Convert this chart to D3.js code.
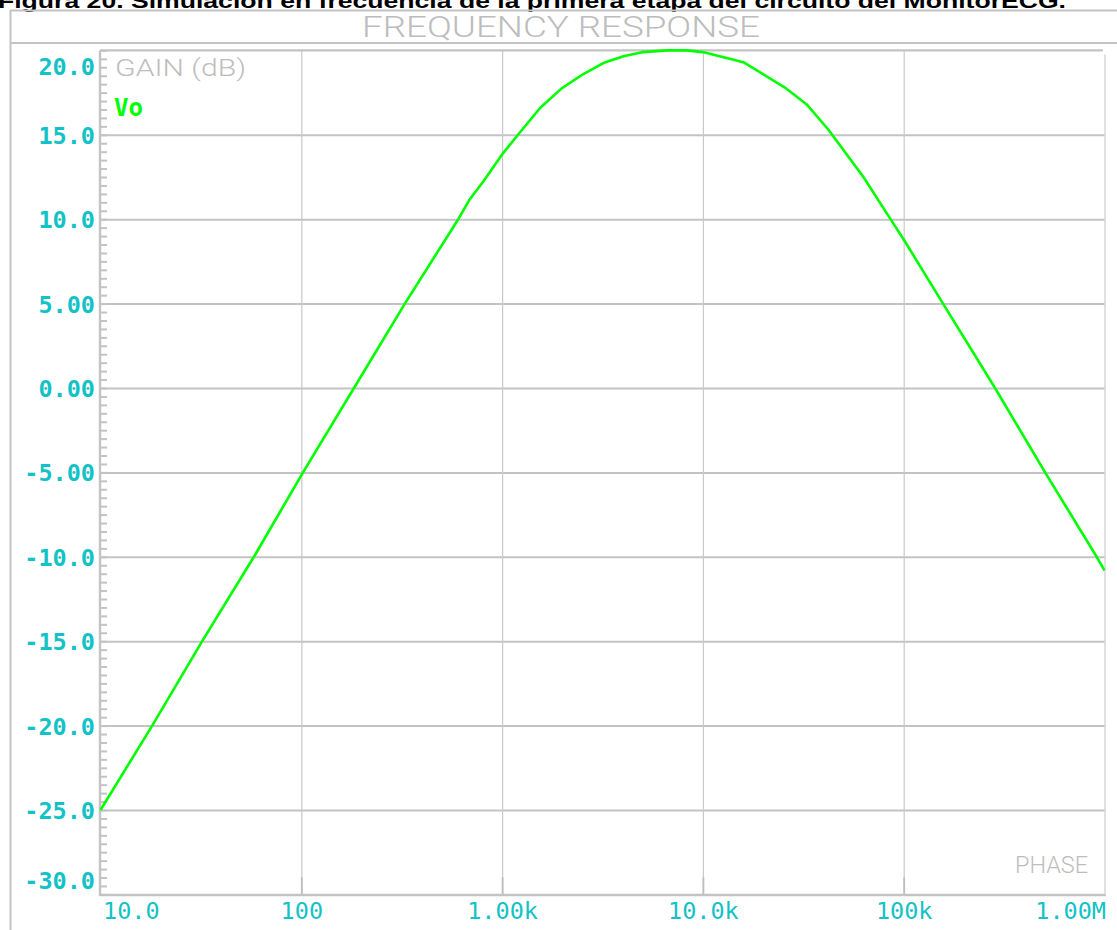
<!DOCTYPE html>
<html>
<head>
<meta charset="utf-8">
<script src="https://cdn.jsdelivr.net/npm/d3@7"></script>
<style>
  html, body { margin: 0; padding: 0; background: #fff; }
  svg { display: block; }
</style>
</head>
<body>
<svg id="chart" width="1117" height="930"></svg>
<script>
// ---------------- data ----------------
const caption = "Figura 20. Simulación en frecuencia de la primera etapa del circuito del MonitorECG.";
const plotTitle = "FREQUENCY RESPONSE";
const yAxisTitle = "GAIN (dB)";
const rightAxisTitle = "PHASE";
const seriesName = "Vo";

const freqHz = [10, 18.1, 32.1, 58.1, 102, 183, 328, 605, 692, 803, 1010, 1200, 1550, 1980, 2540, 3190, 4020, 5050, 6600, 8300, 10000, 15900, 25600, 32900, 42200, 63000, 85500, 100000, 157000, 285000, 506000, 914000, 1000000];
const gainDb = [-25.0, -20.0, -15.0, -10.0, -5.0, 0.0, 5.0, 10.0, 11.2, 12.2, 13.9, 15.0, 16.6, 17.75, 18.6, 19.25, 19.65, 19.9, 20.0, 20.0, 19.9, 19.3, 17.8, 16.8, 15.3, 12.5, 10.05, 8.8, 5.0, 0.0, -5.0, -10.0, -10.8];

const yTickValues = [20, 15, 10, 5, 0, -5, -10, -15, -20, -25, -30];
const yTickLabels = ["20.0", "15.0", "10.0", "5.00", "0.00", "-5.00", "-10.0", "-15.0", "-20.0", "-25.0", "-30.0"];
const xTickValues = [10, 100, 1000, 10000, 100000, 1000000];
const xTickLabels = ["10.0", "100", "1.00k", "10.0k", "100k", "1.00M"];

// ---------------- layout ----------------
const svg = d3.select("#chart");
const L = 100, R = 1105, T = 50.4, B = 894.4;
const x = d3.scaleLog().domain([10, 1e6]).range([100.5, 1104.5]);
const y = d3.scaleLinear().domain([-30, 20]).range([B, T]);

const GRID = "#c3c3c3";
const CYAN = "#12c2c6";
const GREEN = "#00ff00";
const LABELGRAY = "#bdbdbd";

// caption (cut at top)
svg.append("text")
  .attr("x", -2).attr("y", 7.5)
  .attr("font-family", "Liberation Sans, Arial, sans-serif")
  .attr("font-weight", "bold").attr("font-size", 20)
  .attr("textLength", 1068).attr("lengthAdjust", "spacingAndGlyphs")
  .attr("fill", "#000").text(caption);

// outer frame
svg.append("line").attr("x1", 10).attr("x2", 1117).attr("y1", 10.5).attr("y2", 10.5)
  .attr("stroke", GRID).attr("stroke-width", 2);
svg.append("line").attr("x1", 10.5).attr("x2", 10.5).attr("y1", 10).attr("y2", 930)
  .attr("stroke", GRID).attr("stroke-width", 2);
svg.append("line").attr("x1", 10).attr("x2", 1117).attr("y1", 43).attr("y2", 43)
  .attr("stroke", GRID).attr("stroke-width", 2);

// plot title
svg.append("text")
  .attr("x", 362).attr("y", 37)
  .attr("font-family", "Roboto, 'DejaVu Sans', sans-serif")
  .attr("font-weight", 300).attr("font-size", 29)
  .attr("textLength", 398).attr("lengthAdjust", "spacingAndGlyphs")
  .attr("fill", LABELGRAY).text(plotTitle);

// horizontal gridlines (major y)
const gridY = svg.append("g")
  .attr("transform", `translate(${L},0)`)
  .call(d3.axisLeft(y).tickValues(yTickValues.filter(v => v > -30 && v < 20))
    .tickSize(-(R - L)).tickFormat(""));
gridY.select(".domain").remove();
gridY.selectAll("line").attr("stroke", GRID).attr("stroke-width", 2);

// vertical gridlines (decades)
const gridX = svg.append("g")
  .attr("transform", `translate(0,${B})`)
  .call(d3.axisBottom(x).tickValues(xTickValues.filter(v => v > 10 && v < 1e6))
    .tickSize(-(B - T)).tickFormat(""));
gridX.select(".domain").remove();
gridX.selectAll("line").attr("stroke", "#c9c9c9").attr("stroke-width", 1.2);

// short darker x ticks at bottom
const xStub = svg.append("g")
  .attr("transform", `translate(0,${B})`)
  .call(d3.axisBottom(x).tickValues(xTickValues.filter(v => v > 10 && v < 1e6))
    .tickSize(-17).tickFormat(""));
xStub.select(".domain").remove();
xStub.selectAll("line").attr("stroke", "#bdbdbd").attr("stroke-width", 1.8);

// minor y ticks every 0.5 dB
const minorVals = d3.range(-30, 20.001, 0.5);
const minorY = svg.append("g")
  .attr("transform", `translate(${L},0)`)
  .call(d3.axisLeft(y).tickValues(minorVals).tickSize(-7).tickFormat(""));
minorY.select(".domain").remove();
minorY.selectAll("line").attr("stroke", GRID).attr("stroke-width", 2);

// plot borders
svg.append("line").attr("x1", L).attr("x2", R - 2).attr("y1", T).attr("y2", T)
  .attr("stroke", GRID).attr("stroke-width", 2.2);
svg.append("line").attr("x1", L).attr("x2", R + 1).attr("y1", B + 0.6).attr("y2", B + 0.6)
  .attr("stroke", GRID).attr("stroke-width", 2.4);
svg.append("line").attr("x1", L).attr("x2", L).attr("y1", T).attr("y2", B + 1.5)
  .attr("stroke", GRID).attr("stroke-width", 2.4);
svg.append("line").attr("x1", R).attr("x2", R).attr("y1", T + 4).attr("y2", B)
  .attr("stroke", "#d6d6d6").attr("stroke-width", 1.5);

// y tick labels
const yLab = svg.append("g")
  .attr("transform", `translate(${L - 5},0)`)
  .call(d3.axisLeft(y).tickValues(yTickValues).tickSize(0).tickPadding(0)
    .tickFormat((d, i) => yTickLabels[i]));
yLab.select(".domain").remove();
yLab.selectAll("text")
  .attr("font-family", "'DejaVu Sans Mono', monospace")
  .attr("font-weight", "bold").attr("font-size", 23.5)
  .attr("fill", CYAN)
  .attr("dy", d => d === 20 ? "1.02em" : d === -30 ? "-0.26em" : "0.36em");

// x tick labels
const xLab = svg.append("g")
  .attr("transform", `translate(0,${B})`)
  .call(d3.axisBottom(x).tickValues(xTickValues).tickSize(0).tickPadding(0)
    .tickFormat((d, i) => xTickLabels[i]));
xLab.select(".domain").remove();
xLab.selectAll("text")
  .attr("font-family", "'DejaVu Sans Mono', monospace")
  .attr("font-size", 23.5).attr("fill", CYAN)
  .attr("dy", 0).attr("y", 25)
  .attr("text-anchor", d => d === 10 ? "start" : d === 1e6 ? "end" : "middle")
  .attr("dx", d => d === 10 ? 2 : d === 1e6 ? 1 : 0);

// gray labels inside plot
svg.append("text").attr("x", 115).attr("y", 76)
  .attr("font-family", "Roboto, 'DejaVu Sans', sans-serif")
  .attr("font-weight", 300).attr("font-size", 23)
  .attr("textLength", 131).attr("lengthAdjust", "spacingAndGlyphs")
  .attr("fill", LABELGRAY).text(yAxisTitle);
svg.append("text").attr("x", 1015).attr("y", 873)
  .attr("font-family", "Roboto, 'DejaVu Sans', sans-serif")
  .attr("font-weight", 300).attr("font-size", 24)
  .attr("textLength", 73).attr("lengthAdjust", "spacingAndGlyphs")
  .attr("fill", LABELGRAY).text(rightAxisTitle);

// legend
svg.append("text").attr("x", 114).attr("y", 116)
  .attr("font-family", "'DejaVu Sans Mono', monospace")
  .attr("font-weight", "bold").attr("font-size", 24)
  .attr("textLength", 29).attr("lengthAdjust", "spacingAndGlyphs")
  .attr("fill", GREEN).text(seriesName);

// curve
const pts = freqHz.map((f, i) => [f, gainDb[i]]);
svg.append("path")
  .datum(pts)
  .attr("fill", "none").attr("stroke", GREEN).attr("stroke-width", 2.6)
  .attr("stroke-linejoin", "round")
  .attr("d", d3.line().x(d => x(d[0])).y(d => y(d[1])));
</script>
</body>
</html>
